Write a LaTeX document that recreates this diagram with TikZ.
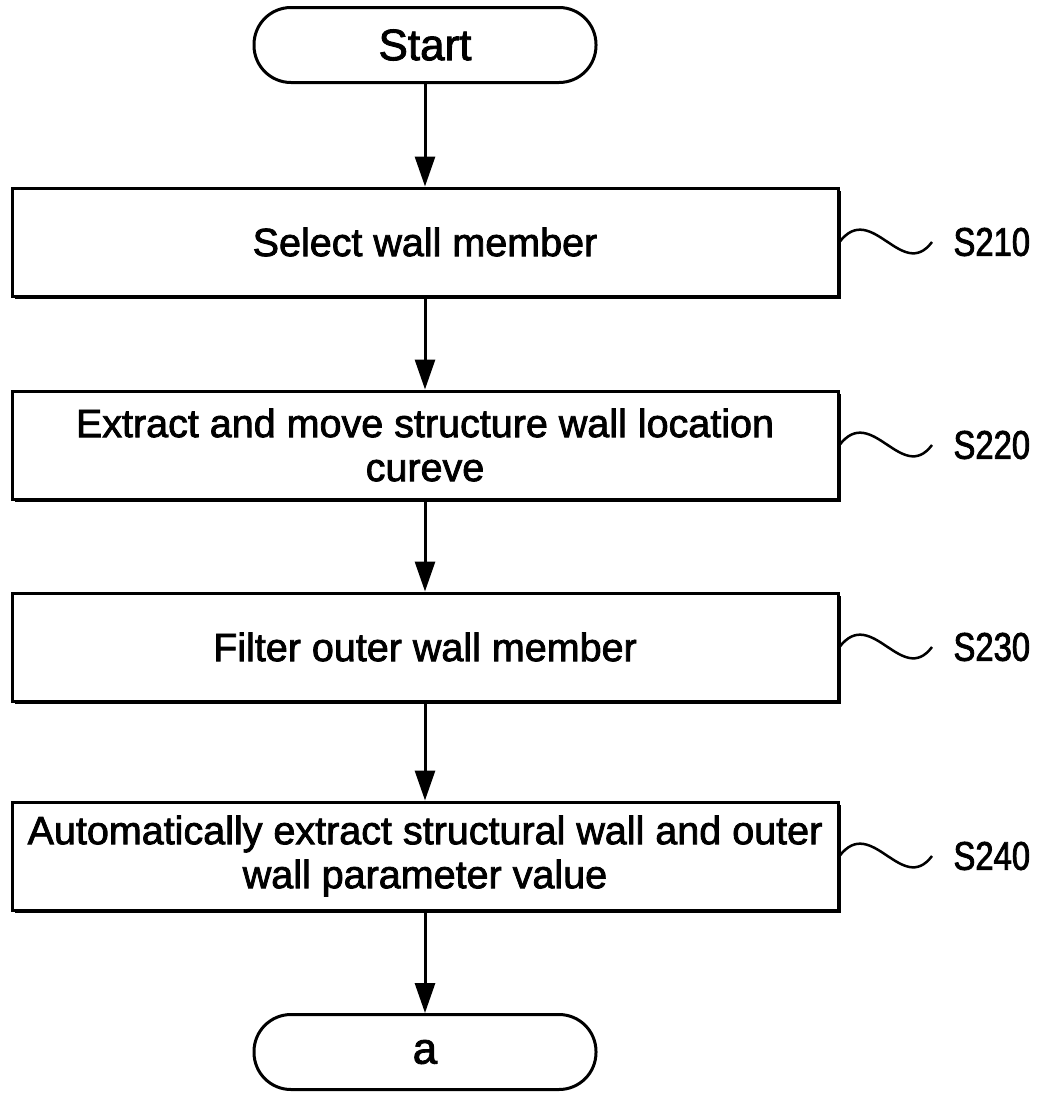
\documentclass[tikz,border=0pt]{standalone}
\usepackage{fontspec}
\setmainfont{Liberation Sans}[FakeBold=2]
\newfontfamily\stepfont{Liberation Sans}[FakeStretch=0.82,FakeBold=2]
\usetikzlibrary{arrows.meta,shadows}

\begin{document}
\begin{tikzpicture}[
  x=1pt, y=-1pt,
  line width=3pt,
  box/.style={draw, fill=white, align=center, minimum width=826pt, minimum height=108pt,
    font=\fontsize{39.5}{44}\selectfont,
    drop shadow={shadow xshift=2.5pt, shadow yshift=-2.5pt, fill=black, opacity=1}},
  term/.style={draw, fill=white, rounded corners=37pt, minimum width=342pt, minimum height=75pt,
    font=\fontsize{44}{48}\selectfont},
  steplabel/.style={anchor=west, inner xsep=20pt, inner ysep=0pt, font=\stepfont\fontsize{40}{44}\selectfont},
  wave/.style={line width=2.5pt},
  >={Triangle[length=30pt,width=20pt]}
]
\useasboundingbox (0,0) rectangle (1042,1093);

\node[term] (start) at (425,45) {Start};
\node[box] (select) at (425,242) {Select wall member};
\node[box] (extract) at (425,445) {Extract and move structure wall location\\cureve};
\node[box] (filter) at (425,647) {Filter outer wall member};
\node[box] (param) at (425,856) {Automatically extract structural wall and outer\\wall parameter value};
\node[term] (conn) at (425,1052) {a};

\node[steplabel] (s210) at (932,242) {S210};
\node[steplabel] (s220) at (932,445) {S220};
\node[steplabel] (s230) at (932,647) {S230};
\node[steplabel] (s240) at (932,856) {S240};

\draw[->] (start) -- (select);
\draw[->] (select) -- (extract);
\draw[->] (extract) -- (filter);
\draw[->] (filter) -- (param);
\draw[->] (param) -- (conn);

\draw[wave] (select.east) .. controls +(32,-42) and +(-30,40) .. (s210.west);
\draw[wave] (extract.east) .. controls +(32,-42) and +(-30,40) .. (s220.west);
\draw[wave] (filter.east) .. controls +(32,-42) and +(-30,40) .. (s230.west);
\draw[wave] (param.east) .. controls +(32,-42) and +(-30,40) .. (s240.west);
\end{tikzpicture}
\end{document}
